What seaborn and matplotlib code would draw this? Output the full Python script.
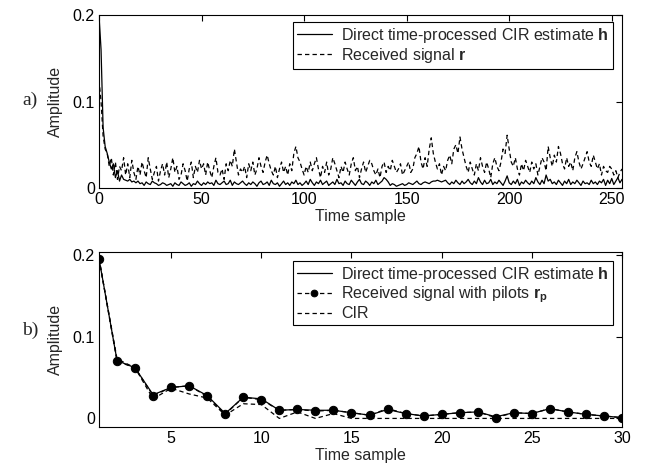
import numpy as np
import pandas as pd
import matplotlib
matplotlib.use("Agg")
import matplotlib.pyplot as plt
import seaborn as sns

sns.set_style("white")
plt.rcParams['font.family'] = ['Liberation Sans', 'DejaVu Sans']
plt.rcParams['mathtext.fontset'] = 'custom'
plt.rcParams['mathtext.bf'] = 'Liberation Sans:bold'
plt.rcParams['mathtext.rm'] = 'Liberation Sans'

# ---------- panel a) data (amplitudes x 1e-3), samples 0..255 ----------
h_a_milli = [
    200, 160, 70, 48, 40, 30, 22, 28, 12, 20, 8, 15, 10, 9, 8, 10, 7, 8, 6, 8,
    5, 6, 3, 7, 5, 4, 8, 6, 5, 3, 4, 6, 5, 3, 4, 5, 2, 6, 4, 3,
    7, 5, 3, 4, 6, 2, 5, 4, 8, 5, 3, 6, 4, 7, 5, 6, 3, 9, 5, 4,
    6, 8, 4, 5, 9, 3, 7, 5, 4, 6, 8, 5, 3, 6, 4, 7, 5, 2, 6, 8,
    4, 5, 7, 3, 9, 5, 4, 6, 2, 5, 8, 4, 6, 3, 7, 5, 9, 4, 6, 3,
    5, 8, 4, 10, 6, 3, 7, 5, 9, 4, 6, 8, 3, 5, 7, 4, 10, 5, 6, 3,
    8, 5, 4, 9, 6, 3, 7, 10, 5, 4, 8, 6, 3, 7, 5, 9, 4, 6, 8, 12,
    10, 7, 3, 5, 4, 2, 3, 4, 5, 3, 4, 6, 5, 4, 6, 8, 5, 4, 6, 7,
    6, 5, 7, 8, 8, 9, 8, 7, 8, 9, 6, 4, 7, 5, 9, 6, 4, 8, 5, 7,
    10, 6, 4, 8, 5, 12, 7, 4, 9, 5, 6, 10, 4, 7, 5, 9, 6, 3, 8, 14,
    6, 4, 8, 5, 10, 3, 7, 5, 9, 6, 4, 8, 5, 12, 7, 4, 9, 5, 15, 8,
    10, 5, 7, 4, 9, 6, 3, 8, 5, 10, 4, 7, 5, 9, 6, 3, 8, 5, 6, 4,
    9, 5, 7, 4, 8, 6, 10, 3, 9, 5, 11, 4, 8, 12, 6, 10,
]
r_a_milli = [
    125, 100, 60, 45, 40, 25, 35, 15, 30, 10, 25, 20, 35, 15, 28, 12, 32, 18, 10, 25,
    15, 30, 20, 12, 35, 22, 10, 18, 25, 8, 20, 28, 15, 30, 12, 22, 35, 18, 25, 10,
    15, 28, 20, 8, 22, 30, 12, 25, 18, 32, 22, 28, 15, 30, 20, 12, 25, 35, 18, 15,
    22, 10, 28, 20, 32, 25, 45, 30, 15, 22, 18, 25, 12, 28, 20, 30, 15, 22, 35, 25,
    18, 30, 38, 28, 20, 15, 25, 12, 22, 30, 18, 25, 15, 28, 20, 40, 48, 35, 30, 22,
    15, 25, 18, 30, 20, 28, 35, 22, 12, 25, 18, 30, 15, 22, 35, 28, 20, 12, 25, 18,
    30, 22, 15, 28, 35, 20, 25, 12, 22, 30, 18, 25, 32, 28, 20, 15, 22, 12, 25, 30,
    18, 25, 20, 32, 25, 18, 22, 28, 15, 20, 25, 30, 18, 22, 35, 40, 48, 30, 22, 35,
    25, 45, 58, 40, 30, 22, 28, 15, 25, 20, 32, 38, 28, 45, 50, 40, 59, 45, 35, 25,
    18, 30, 22, 15, 28, 20, 35, 25, 18, 30, 22, 12, 28, 35, 25, 20, 30, 45, 40, 61,
    45, 30, 25, 35, 22, 15, 28, 20, 32, 25, 18, 30, 22, 28, 15, 25, 35, 30, 20, 48,
    35, 25, 38, 30, 48, 40, 28, 22, 35, 25, 30, 20, 35, 42, 30, 22, 28, 35, 42, 30,
    25, 38, 30, 22, 28, 15, 25, 20, 18, 25, 22, 15, 20, 12, 18, 22,
]
samples_a = list(range(len(h_a_milli)))

# ---------- panel b) data, samples 1..30 ----------
samples_b = list(range(1, 31))
rp_b = [0.196, 0.070, 0.062, 0.028, 0.038, 0.040, 0.027, 0.005, 0.026, 0.023,
        0.010, 0.011, 0.009, 0.010, 0.007, 0.004, 0.012, 0.006, 0.003, 0.005,
        0.007, 0.008, 0.001, 0.007, 0.006, 0.012, 0.008, 0.005, 0.003, 0.001]
h_b = [0.196, 0.071, 0.062, 0.029, 0.038, 0.040, 0.028, 0.006, 0.026, 0.024,
       0.010, 0.011, 0.010, 0.010, 0.007, 0.004, 0.011, 0.006, 0.003, 0.005,
       0.007, 0.008, 0.002, 0.007, 0.006, 0.012, 0.008, 0.005, 0.003, 0.001]
cir_b = [0.196, 0.073, 0.062, 0.024, 0.037, 0.030, 0.025, 0.004, 0.018, 0.017,
         0.000, 0.008, 0.000, 0.006, 0.000, 0.000, 0.000, 0.000, 0.000, 0.000,
         0.000, 0.000, 0.000, 0.000, 0.000, 0.000, 0.000, 0.000, 0.000, 0.000]

df_a = pd.DataFrame({"x": samples_a,
                     "h": np.array(h_a_milli) / 1000.0,
                     "r": np.array(r_a_milli) / 1000.0})
df_b = pd.DataFrame({"x": samples_b, "h": h_b, "rp": rp_b, "cir": cir_b})

W, H = 651, 470
fig = plt.figure(figsize=(W / 100, H / 100), dpi=100)
L, R = 99, 622
axA = fig.add_axes([L / W, 1 - 188 / H, (R - L) / W, (188 - 15) / H])
axB = fig.add_axes([L / W, 1 - 427 / H, (R - L) / W, (427 - 252) / H])

lw = 0.9
fs = 11.5
dash = (0, (3.5, 2.5))

# panel a
sns.lineplot(data=df_a, x="x", y="h", ax=axA, color="k", lw=lw,
             label=r"Direct time-processed CIR estimate $\mathbf{h}$")
sns.lineplot(data=df_a, x="x", y="r", ax=axA, color="k", lw=lw, linestyle=dash,
             label=r"Received signal $\mathbf{r}$")
axA.set_xlim(0, 255)
axA.set_ylim(0, 0.2)
axA.set_xticks([0, 50, 100, 150, 200, 250])
axA.set_yticks([0, 0.1, 0.2])
axA.set_yticklabels(["0", "0.1", "0.2"])

# panel b
sns.lineplot(data=df_b, x="x", y="h", ax=axB, color="k", lw=lw, zorder=4,
             label=r"Direct time-processed CIR estimate $\mathbf{h}$")
sns.lineplot(data=df_b, x="x", y="rp", ax=axB, color="k", lw=lw, linestyle=dash,
             marker="o", markersize=6, markeredgecolor="k", zorder=3,
             label=r"Received signal with pilots $\mathbf{r}_\mathbf{p}$")
sns.lineplot(data=df_b, x="x", y="cir", ax=axB, color="k", lw=lw, linestyle=dash,
             zorder=2, label="CIR")
axB.set_xlim(1, 30)
axB.set_ylim(-0.0105, 0.204)
axB.set_xticks([5, 10, 15, 20, 25, 30])
axB.set_yticks([0, 0.1, 0.2])
axB.set_yticklabels(["0", "0.1", "0.2"])

for ax, anchor in ((axA, (0.983, 0.96)), (axB, (0.983, 0.949))):
    ax.set_xlabel("Time sample", fontsize=fs, labelpad=1)
    ax.set_ylabel("Amplitude", fontsize=fs, labelpad=7)
    ax.tick_params(direction="in", top=True, right=True, length=4,
                   width=0.8, labelsize=fs, colors="k", pad=3)
    for s in ax.spines.values():
        s.set_color("k")
        s.set_linewidth(0.8)
        s.set_visible(True)
    leg = ax.legend(loc="upper right", bbox_to_anchor=anchor, fontsize=fs,
                    frameon=True, fancybox=False, edgecolor="k",
                    framealpha=1, handlelength=2.2, borderpad=0.25,
                    labelspacing=0.05, handletextpad=0.6, borderaxespad=0,
                    markerscale=0.8)
    leg.get_frame().set_linewidth(0.8)

fig.text(22 / W, 1 - 100 / H, "a)", fontsize=14, family="Liberation Serif",
         va="center", ha="left")
fig.text(22 / W, 1 - 330 / H, "b)", fontsize=14, family="Liberation Serif",
         va="center", ha="left")

fig.savefig("out.png", dpi=100, facecolor="white")
